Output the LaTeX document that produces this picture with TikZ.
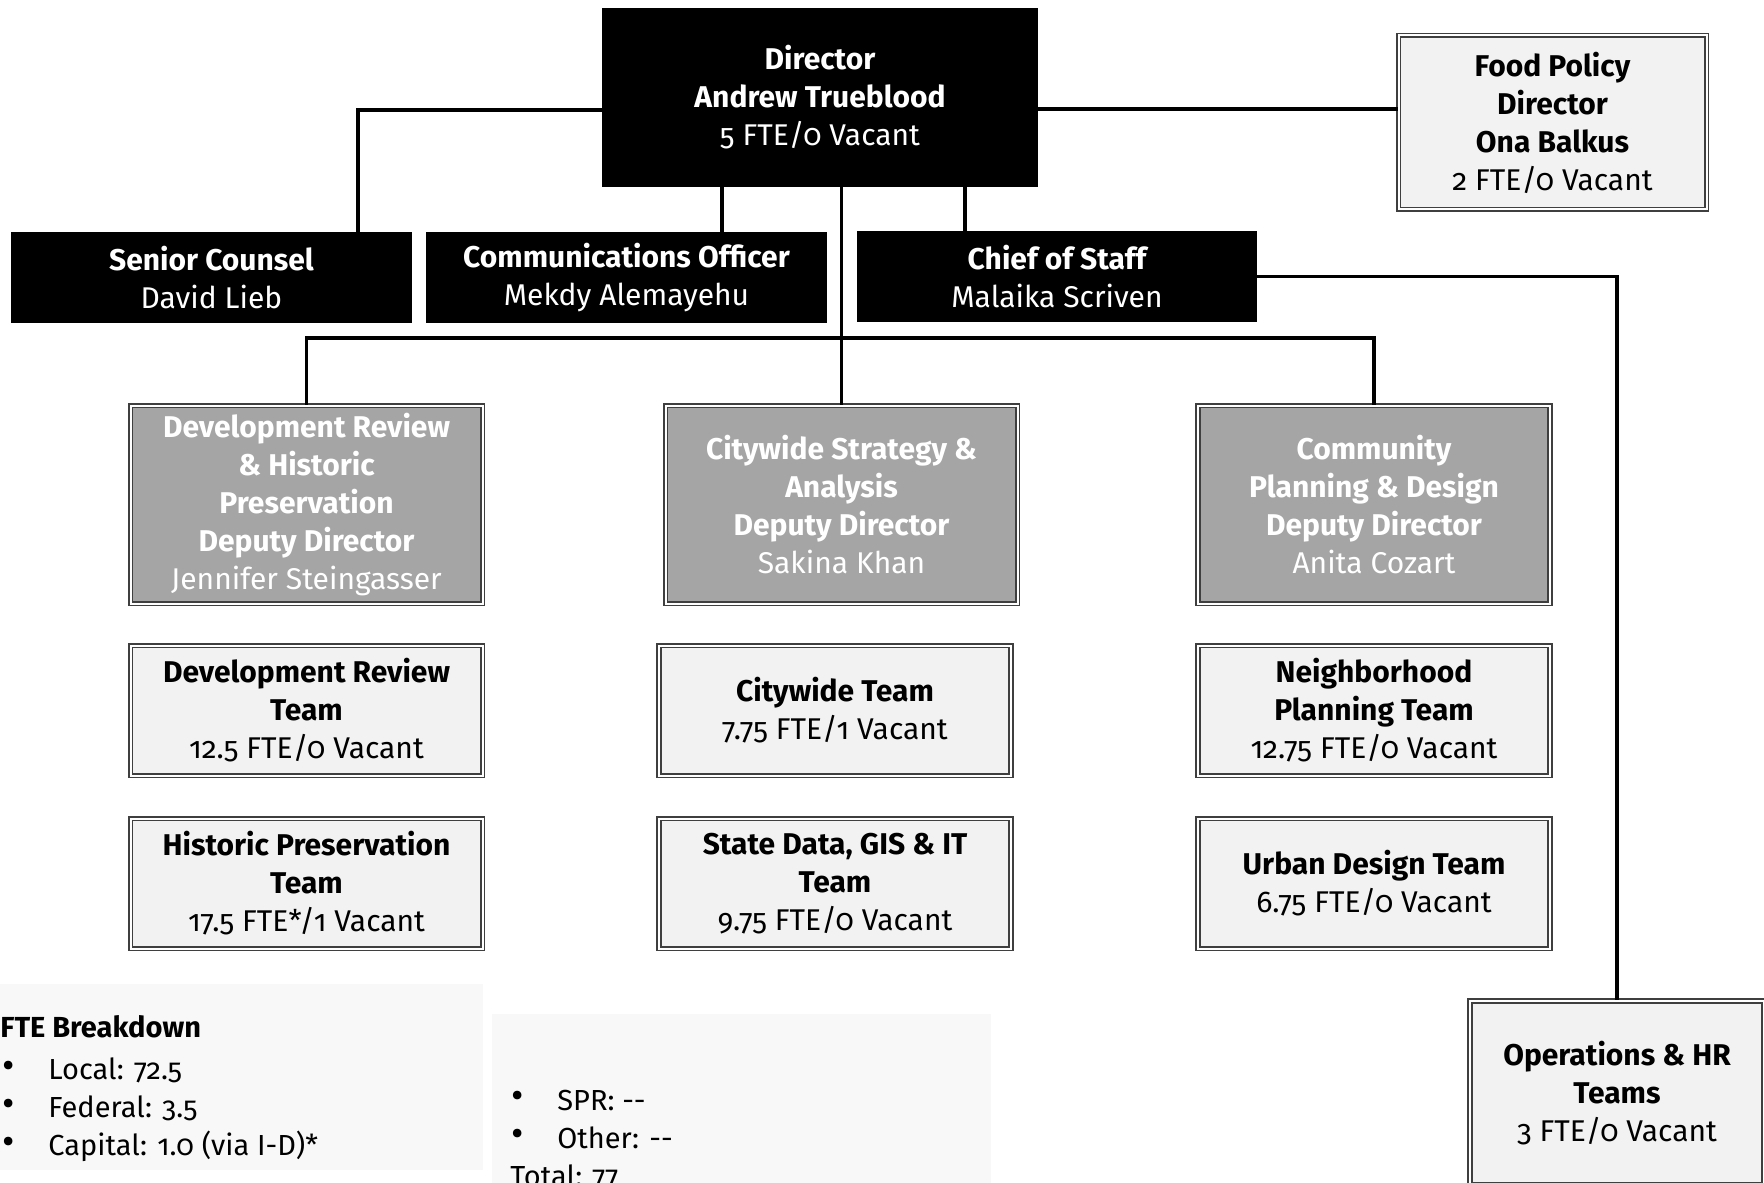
\documentclass[tikz,border=0pt]{standalone}
\usepackage{fontspec}
\setmainfont{Fira Sans}[Numbers=OldStyle]
\usetikzlibrary{calc}
\definecolor{bordergray}{HTML}{3F3F3F}
\definecolor{depgray}{HTML}{A5A5A5}
\definecolor{teamfill}{HTML}{F2F2F2}
\definecolor{panelfill}{HTML}{F8F8F8}
\begin{document}
\begin{tikzpicture}[x=0.5pt,y=-0.5pt,
  boxtext/.style={inner sep=0pt, align=center, font=\fontsize{15}{19}\selectfont\bfseries},
  blackbox/.style={boxtext, fill=black, text=white},
  dbl/.style={draw=bordergray, line width=0.8pt, double=white, double distance=1pt},
  deputy/.style={boxtext, dbl, fill=depgray, text=white, minimum width=176pt, minimum height=99pt},
  team/.style={boxtext, dbl, fill=teamfill, text=black, minimum width=176pt, minimum height=65pt},
  conn/.style={draw=black, line width=1.6pt},
  paneltext/.style={inner sep=0pt, anchor=west, font=\fontsize{14.5}{19}\selectfont},
  bullettext/.style={inner sep=0pt, anchor=west, font=\fontsize{19}{19}\selectfont}
]
\useasboundingbox (0,0) rectangle (1764,1182);

% panels
\fill[panelfill] (0,984) rectangle (483,1170);
\fill[panelfill] (492,1014) rectangle (991,1195);

% top level
\node[blackbox, minimum width=218pt, minimum height=89.5pt] (dir) at (820,97.5)
  {Director\\Andrew Trueblood\\\mdseries 5 FTE/0 Vacant};
\node[boxtext, dbl, fill=teamfill, minimum width=154pt, minimum height=87pt] (fp) at (1552.5,122.5)
  {Food Policy\\Director\\Ona Balkus\\\mdseries 2 FTE/0 Vacant};

\node[blackbox, minimum width=200.5pt, minimum height=45.5pt] (sc) at (211.5,277.5)
  {Senior Counsel\\\mdseries David Lieb};
\node[blackbox, minimum width=200.5pt, minimum height=45.5pt] (co) at (626.5,277.5)
  {Communications Officer\\\mdseries Mekdy Alemayehu};
\node[blackbox, minimum width=200pt, minimum height=45.5pt] (cs) at (1057,276.5)
  {Chief of Staff\\\mdseries Malaika Scriven};

% deputies
\node[deputy] (drd) at (306.5,504.5)
  {Development Review\\\& Historic\\Preservation\\Deputy Director\\\mdseries Jennifer Steingasser};
\node[deputy] (cwd) at (841.5,504.5)
  {Citywide Strategy \&\\Analysis\\Deputy Director\\\mdseries Sakina Khan};
\node[deputy] (cpd) at (1374,504.5)
  {Community\\Planning \& Design\\Deputy Director\\\mdseries Anita Cozart};

% teams
\node[team] (drt) at (306.5,710.5) {Development Review\\Team\\\mdseries 12.5 FTE/0 Vacant};
\node[team] (cwt) at (835,710.5) {Citywide Team\\\mdseries 7.75 FTE/1 Vacant};
\node[team] (npt) at (1374,710.5) {Neighborhood\\Planning Team\\\mdseries 12.75 FTE/0 Vacant};
\node[team] (hpt) at (306.5,883.5) {Historic Preservation\\Team\\\mdseries 17.5 FTE*/1 Vacant};
\node[team] (sdt) at (835,883.5) {State Data, GIS \& IT\\Team\\\mdseries 9.75 FTE/0 Vacant};
\node[team] (udt) at (1374,883.5) {Urban Design Team\\\mdseries 6.75 FTE/0 Vacant};

\node[team, minimum width=147pt, minimum height=92pt] (ops) at (1617,1093)
  {Operations \& HR\\Teams\\\mdseries 3 FTE/0 Vacant};

% connector helper coordinates
\coordinate (dl) at (602,110);
\coordinate (scx) at (358,0);
\coordinate (dr) at (1038,109);
\coordinate (cox) at (722,0);
\coordinate (csx) at (965,0);
\coordinate (bar) at (0,338);

% connectors
\draw[conn] (dl) -| (sc.north -| scx);
\draw[conn] (dr) -- (dr -| fp.west);
\draw[conn] (dir.south -| cox) -- (co.north -| cox);
\draw[conn] (dir.south -| csx) -- (cs.north -| csx);
\draw[conn] (dir.south -| cwd.north) -- (cwd.north);
\draw[conn] (drd.north) -- (drd.north |- bar) -- (cpd.north |- bar) -- (cpd.north);
\draw[conn] (cs.east) -| (ops.north);

% panel text
\node[paneltext] (ftehead) at (0,1027) {\bfseries FTE Breakdown};
\node[bullettext] (b1) at (2,1070) {•};
\node[paneltext] (t1) at (48,1070) {Local: 72.5};
\node[bullettext] (b2) at (2,1108) {•};
\node[paneltext] (t2) at (48,1108) {Federal: 3.5};
\node[bullettext] (b3) at (2,1146) {•};
\node[paneltext] (t3) at (48,1146) {Capital: 1.0 (via I-D)*};
\node[bullettext] (b4) at (511,1100) {•};
\node[paneltext] (t4) at (557,1100) {SPR: -{}-};
\node[bullettext] (b5) at (511,1138) {•};
\node[paneltext] (t5) at (557,1138) {Other: -{}-};
\node[paneltext] (t6) at (510,1177) {Total: 77};
\end{tikzpicture}
\end{document}
